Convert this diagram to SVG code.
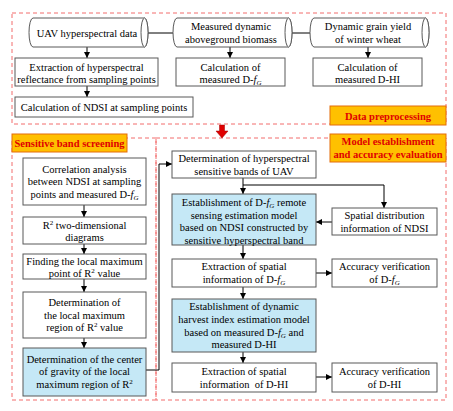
<svg xmlns="http://www.w3.org/2000/svg" width="453" height="411" viewBox="0 0 453 411">
<defs>
<marker id="ah" viewBox="0 0 6 6" refX="6" refY="3" markerWidth="6" markerHeight="6" markerUnits="userSpaceOnUse" orient="auto">
<path d="M0,0 L6,3 L0,6 Z" fill="#000"/>
</marker>
</defs>
<style>
text{font-family:"Liberation Serif","Times New Roman",serif;font-size:10.5px;fill:#000;text-anchor:middle}
.box{fill:#fff;stroke:#595959;stroke-width:1}
.blue{fill:#C5E8F6;stroke:#595959;stroke-width:1}
.cyl{fill:#fff;stroke:#595959;stroke-width:1}
.dash{fill:none;stroke:#F26C6C;stroke-width:1;stroke-dasharray:4,3}
.lbl{fill:#FFC000;stroke:#E46C0A;stroke-width:1}
.lt{font-weight:bold;fill:#E00000}
.con{fill:none;stroke:#000;stroke-width:1}
.arr{fill:none;stroke:#000;stroke-width:1;marker-end:url(#ah)}
.it{font-style:italic}
.sub{font-size:7px;font-style:italic}
.sup{font-size:7px}
</style>

<g id="regions">
<rect class="dash" x="12" y="13" width="434" height="111"/>
<rect class="dash" x="12" y="138" width="144" height="262"/>
<rect class="dash" x="156" y="138" width="290" height="262"/>
</g>

<g id="label-preprocessing">
<rect class="lbl" x="330" y="106" width="116" height="19"/>
<text class="lt" x="388" y="119.5">Data preprocessing</text>
</g>
<g id="label-sensitive">
<rect class="lbl" x="12" y="134" width="115" height="18"/>
<text class="lt" x="69.5" y="147">Sensitive band screening</text>
</g>
<g id="label-model">
<rect class="lbl" x="330" y="134" width="116" height="28"/>
<text class="lt" x="388" y="145">Model establishment</text>
<text class="lt" x="388" y="158">and accuracy evaluation</text>
</g>

<g id="connectors">
<line class="con" x1="148" y1="33" x2="173" y2="33"/>
<line class="con" x1="292" y1="33" x2="310" y2="33"/>
<line class="arr" x1="87" y1="47" x2="87" y2="58"/>
<line class="arr" x1="87" y1="86" x2="87" y2="97"/>
<line class="arr" x1="230" y1="47" x2="230" y2="58"/>
<line class="arr" x1="368" y1="47" x2="368" y2="58"/>
<line class="arr" x1="84" y1="205" x2="84" y2="217"/>
<line class="arr" x1="84" y1="244" x2="84" y2="254"/>
<line class="arr" x1="84" y1="279" x2="84" y2="292"/>
<line class="arr" x1="84" y1="338" x2="84" y2="348"/>
<polyline class="arr" points="146,370 159,370 159,164 172,164"/>
<line class="arr" x1="243" y1="178" x2="243" y2="194"/>
<polyline class="arr" points="243,185 384,185 384,208"/>
<line class="arr" x1="332" y1="222" x2="316" y2="222"/>
<line class="arr" x1="243" y1="245" x2="243" y2="259"/>
<line class="arr" x1="316" y1="273" x2="332" y2="273"/>
<line class="arr" x1="243" y1="287" x2="243" y2="299"/>
<line class="arr" x1="243" y1="352" x2="243" y2="363"/>
<line class="arr" x1="316" y1="377" x2="332" y2="377"/>
<path d="M219.5,125 L224.5,125 L224.5,131 L228,131 L222,138 L216,131 L219.5,131 Z" fill="#E00000" stroke="#A00000" stroke-width="0.5"/>
</g>

<g id="uav">
<path class="cyl" d="M33,18 L144.5,18 A3.5,14.5 0 0 1 144.5,47 L33,47 A4,14.5 0 0 1 33,18 Z"/>
<ellipse class="cyl" cx="144.5" cy="32.5" rx="3.5" ry="14.5"/>
<text x="87" y="36.5">UAV hyperspectral data</text>
</g>
<g id="biomass">
<path class="cyl" d="M177,18 L288.5,18 A3.5,14.5 0 0 1 288.5,47 L177,47 A4,14.5 0 0 1 177,18 Z"/>
<ellipse class="cyl" cx="288.5" cy="32.5" rx="3.5" ry="14.5"/>
<text x="231" y="30">Measured dynamic</text>
<text x="231" y="43">aboveground biomass</text>
</g>
<g id="grain">
<path class="cyl" d="M314,18 L425.5,18 A3.5,14.5 0 0 1 425.5,47 L314,47 A4,14.5 0 0 1 314,18 Z"/>
<ellipse class="cyl" cx="425.5" cy="32.5" rx="3.5" ry="14.5"/>
<text x="368" y="30">Dynamic grain yield</text>
<text x="368" y="43">of winter wheat</text>
</g>

<g id="extract-refl">
<rect class="box" x="15" y="58" width="143" height="28"/>
<text x="86.5" y="70.5">Extraction of hyperspectral</text>
<text x="86.5" y="83">reflectance from sampling points</text>
</g>
<g id="ndsi">
<rect class="box" x="15" y="97" width="178" height="20"/>
<text x="104" y="110.5">Calculation of NDSI at sampling points</text>
</g>
<g id="calc-dfg">
<rect class="box" x="176" y="58" width="109" height="28"/>
<text x="230.5" y="70.5">Calculation of</text>
<text x="230.5" y="83">measured D-<tspan class="it">f</tspan><tspan class="sub" dy="2">G</tspan></text>
</g>
<g id="calc-dhi">
<rect class="box" x="313" y="58" width="109" height="28"/>
<text x="367.5" y="70.5">Calculation of</text>
<text x="367.5" y="83">measured D-HI</text>
</g>

<g id="correlation">
<rect class="box" x="23" y="158" width="123" height="47"/>
<text x="84.5" y="172.5">Correlation analysis</text>
<text x="84.5" y="185">between NDSI at sampling</text>
<text x="84.5" y="197.5">points and measured D-<tspan class="it">f</tspan><tspan class="sub" dy="2">G</tspan></text>
</g>
<g id="r2diag">
<rect class="box" x="23" y="217" width="123" height="27"/>
<text x="84.5" y="228.5">R<tspan class="sup" dy="-4">2</tspan><tspan dy="4"> two-dimensional</tspan></text>
<text x="84.5" y="241">diagrams</text>
</g>
<g id="finding">
<rect class="box" x="23" y="254" width="123" height="25"/>
<text x="84.5" y="265">Finding the local maximum</text>
<text x="84.5" y="277">point of R<tspan class="sup" dy="-4">2</tspan><tspan dy="4"> value</tspan></text>
</g>
<g id="localregion">
<rect class="box" x="23" y="292" width="123" height="46"/>
<text x="84.5" y="306">Determination of</text>
<text x="84.5" y="318.5">the local maximum</text>
<text x="84.5" y="331">region of R<tspan class="sup" dy="-4">2</tspan><tspan dy="4"> value</tspan></text>
</g>
<g id="gravity">
<rect class="blue" x="23" y="348" width="123" height="48"/>
<text x="84.5" y="362.5">Determination of the center</text>
<text x="84.5" y="375">of gravity of the local</text>
<text x="84.5" y="388">maximum region of R<tspan class="sup" dy="-4">2</tspan></text>
</g>

<g id="sensbands">
<rect class="box" x="172" y="151" width="144" height="27"/>
<text x="244" y="161.5">Determination of hyperspectral</text>
<text x="244" y="175">sensitive bands of UAV</text>
</g>
<g id="model-dfg">
<rect class="blue" x="172" y="194" width="144" height="51"/>
<text x="244" y="205.5">Establishment of D-<tspan class="it">f</tspan><tspan class="sub" dy="2">G</tspan><tspan dy="-2"> remote</tspan></text>
<text x="244" y="218.5">sensing estimation model</text>
<text x="244" y="231">based on NDSI constructed by</text>
<text x="244" y="243.5">sensitive hyperspectral band</text>
</g>
<g id="spatial-ndsi">
<rect class="box" x="332" y="208" width="105" height="27"/>
<text x="384.5" y="218.5">Spatial distribution</text>
<text x="384.5" y="231.5">information of NDSI</text>
</g>
<g id="extract-dfg">
<rect class="box" x="172" y="259" width="144" height="28"/>
<text x="244" y="270">Extraction of spatial</text>
<text x="244" y="283">information of D-<tspan class="it">f</tspan><tspan class="sub" dy="2">G</tspan></text>
</g>
<g id="acc-dfg">
<rect class="box" x="332" y="259" width="105" height="28"/>
<text x="384.5" y="270">Accuracy verification</text>
<text x="384.5" y="283">of D-<tspan class="it">f</tspan><tspan class="sub" dy="2">G</tspan></text>
</g>
<g id="model-dhi">
<rect class="blue" x="172" y="299" width="144" height="53"/>
<text x="244" y="310">Establishment of dynamic</text>
<text x="244" y="322.5">harvest index estimation model</text>
<text x="244" y="335.5">based on measured D-<tspan class="it">f</tspan><tspan class="sub" dy="2">G</tspan><tspan dy="-2"> and</tspan></text>
<text x="244" y="348">measured D-HI</text>
</g>
<g id="extract-dhi">
<rect class="box" x="172" y="363" width="144" height="29"/>
<text x="244" y="374.5">Extraction of spatial</text>
<text x="244" y="387.5" xml:space="preserve">information  of D-HI</text>
</g>
<g id="acc-dhi">
<rect class="box" x="332" y="363" width="105" height="29"/>
<text x="384.5" y="374.5">Accuracy verification</text>
<text x="384.5" y="387.5">of D-HI</text>
</g>
</svg>
